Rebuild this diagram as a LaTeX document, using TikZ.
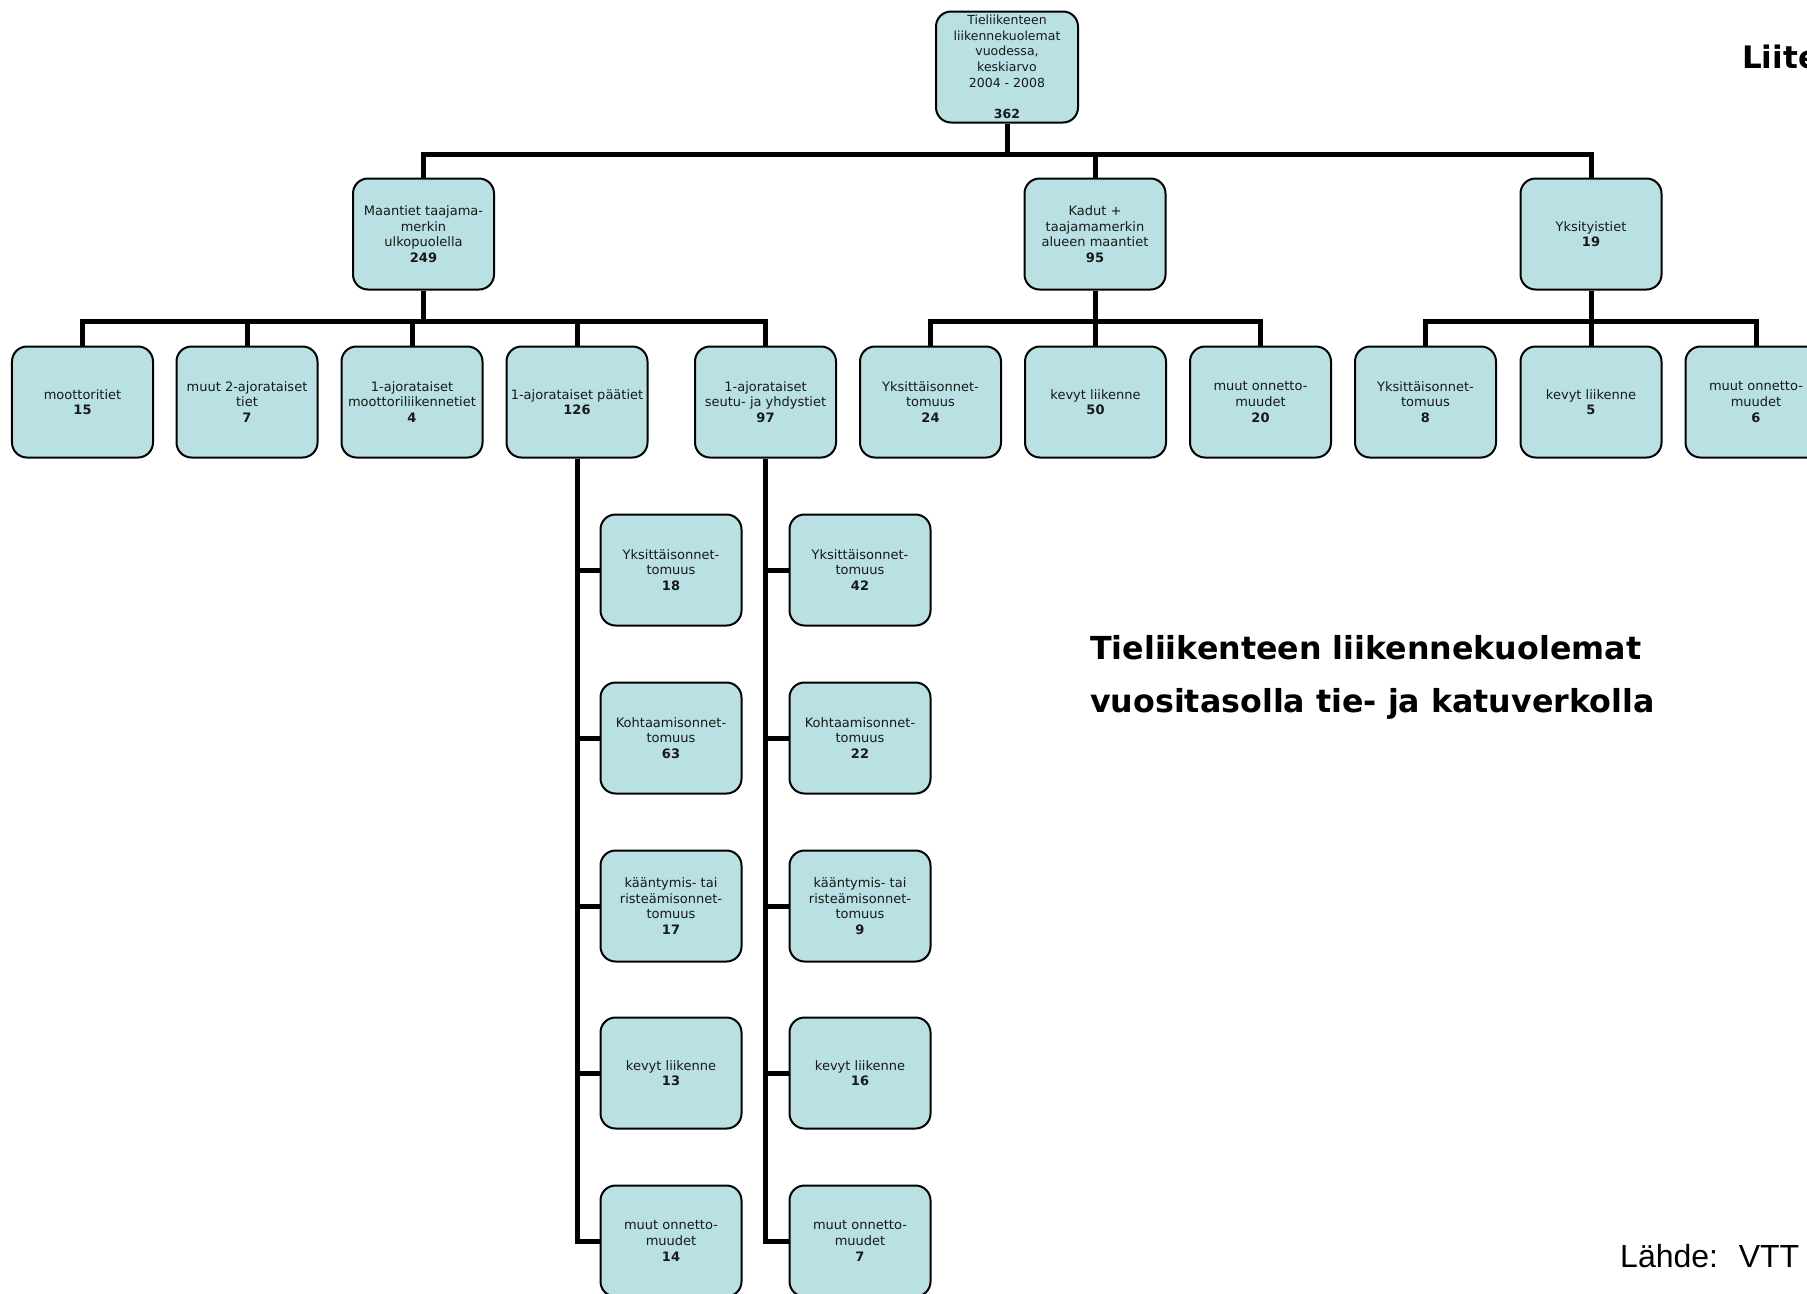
\documentclass[tikz,border=0pt]{standalone}
\usepackage{fontspec}
\setmainfont{DejaVu Sans}
\newfontfamily\libsans{Liberation Sans}
\definecolor{boxfill}{RGB}{185,224,227}
\definecolor{txt}{RGB}{25,25,25}
\tikzset{
  box/.style={draw=black, line width=2bp, fill=boxfill, rounded corners=15bp,
    minimum width=141bp, minimum height=111bp, inner sep=1bp, align=center,
    text=txt, font=\fontsize{13bp}{15.7bp}\selectfont},
  conn/.style={line width=5bp, draw=black},
  bigtitle/.style={anchor=base west, inner sep=0, text=black,
    font=\bfseries\fontsize{31.7bp}{36bp}\selectfont},
}
\begin{document}
\begin{tikzpicture}[x=1bp, y={(0bp,-1bp)}]
\useasboundingbox (0,0) rectangle (1807,1293);
\clip (0,0) rectangle (1807,1293);
\fill[white] (0,0) rectangle (1807,1293);

% root
\node[box, minimum width=142bp, font=\fontsize{12.5bp}{15.7bp}\selectfont] (root) at (1007,67)
  {Tieliikenteen\\liikennekuolemat\\vuodessa,\\keskiarvo\\2004 - 2008\\[15.7bp]\textbf{362}};

% level 2
\node[box] (m) at (423.5,234) {Maantiet taajama-\\merkin\\ulkopuolella\\\textbf{249}};
\node[box] (k) at (1095,234) {Kadut +\\taajamamerkin\\alueen maantiet\\\textbf{95}};
\node[box] (y) at (1591,234) {Yksityistiet\\\textbf{19}};

% level 3
\node[box] (a1) at (82.5,402) {moottoritiet\\\textbf{15}};
\node[box] (a2) at (247,402) {muut 2-ajorataiset\\tiet\\\textbf{7}};
\node[box] (a3) at (412,402) {1-ajorataiset\\moottoriliikennetiet\\\textbf{4}};
\node[box] (a4) at (577,402) {1-ajorataiset päätiet\\\textbf{126}};
\node[box] (a5) at (765.5,402) {1-ajorataiset\\seutu- ja yhdystiet\\\textbf{97}};
\node[box] (b1) at (930.5,402) {Yksittäisonnet-\\tomuus\\\textbf{24}};
\node[box] (b2) at (1095.5,402) {kevyt liikenne\\\textbf{50}};
\node[box] (b3) at (1260.5,402) {muut onnetto-\\muudet\\\textbf{20}};
\node[box] (c1) at (1425.5,402) {Yksittäisonnet-\\tomuus\\\textbf{8}};
\node[box] (c2) at (1591,402) {kevyt liikenne\\\textbf{5}};
\node[box] (c3) at (1756,402) {muut onnetto-\\muudet\\\textbf{6}};

% level 4, left column
\node[box] (p1) at (671,570) {Yksittäisonnet-\\tomuus\\\textbf{18}};
\node[box] (p2) at (671,738) {Kohtaamisonnet-\\tomuus\\\textbf{63}};
\node[box] (p3) at (671,906) {kääntymis- tai\\risteämisonnet-\\tomuus\\\textbf{17}};
\node[box] (p4) at (671,1073) {kevyt liikenne\\\textbf{13}};
\node[box] (p5) at (671,1241) {muut onnetto-\\muudet\\\textbf{14}};

% level 4, right column
\node[box] (s1) at (860,570) {Yksittäisonnet-\\tomuus\\\textbf{42}};
\node[box] (s2) at (860,738) {Kohtaamisonnet-\\tomuus\\\textbf{22}};
\node[box] (s3) at (860,906) {kääntymis- tai\\risteämisonnet-\\tomuus\\\textbf{9}};
\node[box] (s4) at (860,1073) {kevyt liikenne\\\textbf{16}};
\node[box] (s5) at (860,1241) {muut onnetto-\\muudet\\\textbf{7}};

% connectors
\coordinate (j0) at (1007,154);
\draw[conn] (root.south) -- (j0);
\foreach \n in {m,k,y} \draw[conn] (j0) -| (\n.north);

\coordinate (jm) at (423.5,321);
\draw[conn] (m.south) -- (jm);
\foreach \n in {a1,a2,a3,a4,a5} \draw[conn] (jm) -| (\n.north);

\coordinate (jk) at (1095,321);
\draw[conn] (k.south) -- (jk);
\foreach \n in {b1,b2,b3} \draw[conn] (jk) -| (\n.north);

\coordinate (jy) at (1591,321);
\draw[conn] (y.south) -- (jy);
\foreach \n in {c1,c2,c3} \draw[conn] (jy) -| (\n.north);

\foreach \n in {p1,p2,p3,p4,p5} \draw[conn] (a4.south) |- (\n.west);
\foreach \n in {s1,s2,s3,s4,s5} \draw[conn] (a5.south) |- (\n.west);

% texts
\node[bigtitle] (t1) at (1090,659) {Tieliikenteen liikennekuolemat};
\node[bigtitle] (t2) at (1090,712) {vuositasolla tie- ja katuverkolla};
\node[anchor=base west, inner sep=0, font=\bfseries\fontsize{31bp}{36bp}\selectfont] (liite) at (1742,68) {Liite};
\node[anchor=base west, inner sep=0, font=\libsans\fontsize{32bp}{38bp}\selectfont] (lahde) at (1620,1267) {Lähde:~ VTT};
\end{tikzpicture}
\end{document}
